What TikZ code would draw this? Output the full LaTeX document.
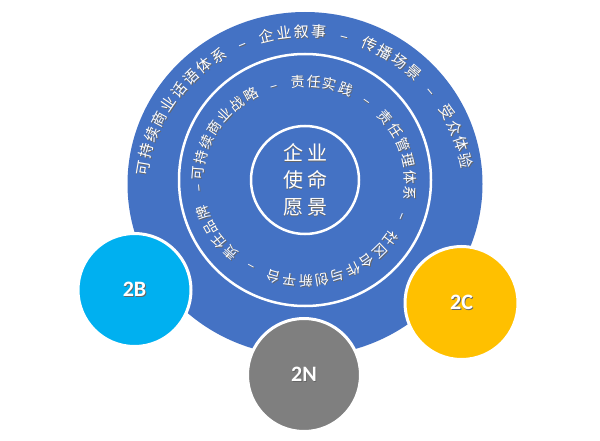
\documentclass[tikz,border=0pt]{standalone}
\usepackage{fontspec}
\setmainfont{Carlito}
\newfontfamily\cjk[WordSpace=3]{Noto Sans CJK SC}
\usetikzlibrary{decorations.text}

\definecolor{ringblue}{HTML}{4472C4}
\definecolor{bluecyan}{HTML}{00B0F0}
\definecolor{goldamber}{HTML}{FFC000}
\definecolor{midgray}{HTML}{7F7F7F}

% white text with a soft drop shadow
\newcommand{\dropshadow}[1]{\leavevmode\rlap{\kern0.9pt\raisebox{-0.9pt}{\color{black!60}#1}}{\color{white}#1}}

\begin{document}
\begin{tikzpicture}[x=1pt,y=1pt,
	group/.style={circle, draw=white, line width=3pt, fill=#1, minimum size=113pt, inner sep=0pt,
		font=\bfseries\fontsize{22}{22}\selectfont},
	outerwords/.style={decorate, decoration={text along path, text align={fit to path},
		text={|\cjk\fontsize{15}{15}\selectfont\color{#1}|可持续商业话语体系 – 企业叙事 – 传播场景 – 受众体验}}},
	innerwords/.style={decorate, decoration={text along path, text align={fit to path},
		text={|\cjk\fontsize{14}{14}\selectfont\color{#1}|可持续商业战略 – 责任实践 – 责任管理体系 – 社区合作与创新平台 – 责任品牌 –}}}]
	\useasboundingbox (0,0) rectangle (600,440);
	% Rings
	\fill [ringblue] (305,256) ellipse [x radius=177.5, y radius=172];
	\draw [white, line width=2.5pt] (305,260) circle [radius=126];
	\draw [white, line width=2.5pt] (305,260) circle [radius=54];
	% Arc texts, shadow first
	\path [outerwords=black!60, xshift=0.9pt, yshift=-0.9pt] (305,244) ++(173:159) arc [start angle=173, end angle=9.7, radius=159];
	\path [outerwords=white] (305,244) ++(173:159) arc [start angle=173, end angle=9.7, radius=159];
	\path [innerwords=black!60, xshift=0.9pt, yshift=-0.9pt] (304,259) ++(180:101 and 94.5) arc [start angle=180, end angle=-178, x radius=101, y radius=94.5];
	\path [innerwords=white] (304,259) ++(180:101 and 94.5) arc [start angle=180, end angle=-178, x radius=101, y radius=94.5];
	% Core
	\node (mission) at (305,260) [align=center, inner sep=0pt, font=\cjk\fontsize{20}{27}\selectfont]
		{\dropshadow{企\hspace{4pt}业}\\\dropshadow{使\hspace{4pt}命}\\\dropshadow{愿\hspace{4pt}景}};
	% Groups
	\node (bside) at (134.5,150) [group=bluecyan] {\dropshadow{2B}};
	\node (cside) at (461.5,137) [group=goldamber] {\dropshadow{2C}};
	\node (nside) at (304,65) [group=midgray] {\dropshadow{2N}};
\end{tikzpicture}
\end{document}
